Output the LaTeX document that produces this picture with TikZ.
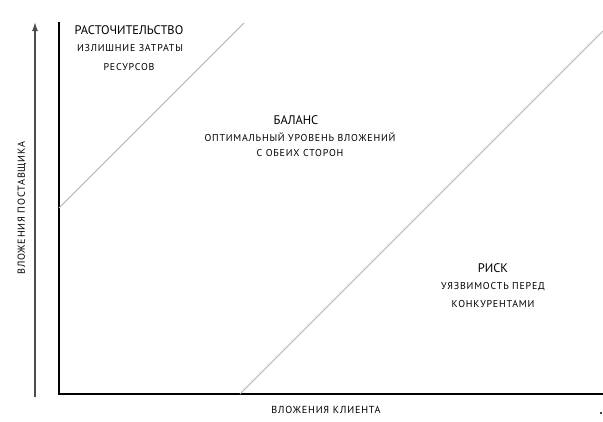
\documentclass[tikz,border=0pt]{standalone}
\usepackage{fontspec}
\setmainfont{PT Sans}
\newfontfamily\titlefont{PT Sans}
\newfontfamily\subfont[LetterSpace=8]{PT Sans}
\usetikzlibrary{arrows.meta}
\begin{document}
\begin{tikzpicture}[x=1bp,y=-1bp,
  axis/.style={line width=1.3bp,black},
  diag/.style={line width=1bp,black!30},
  ttl/.style={font=\titlefont\fontsize{12.5}{14}\selectfont,inner sep=0pt,anchor=center,text=black},
  sub/.style={font=\subfont\fontsize{10}{12}\selectfont,inner sep=0pt,anchor=center,text=black},
  lbl/.style={font=\subfont\fontsize{10.2}{12}\selectfont,inner sep=0pt,anchor=center,text=black}]
\useasboundingbox (0,0) rectangle (603,421);
% outer arrow
\coordinate (a0) at (35,397);
\coordinate (a1) at (35,22);
\draw[line width=1.4bp,black!70,-{Latex[length=9bp,width=6bp]}] (a0) -- (a1);
% axes
\coordinate (ytop) at (59,22);
\coordinate (o) at (59,394);
\coordinate (xend) at (603,394);
\draw[axis] (ytop) -- (o) -- (xend);
% diagonals
\coordinate (d1a) at (59,208);
\coordinate (d1b) at (244,23);
\coordinate (d2a) at (240,394);
\coordinate (d2b) at (603,31);
\draw[diag] (d1a) -- (d1b);
\draw[diag] (d2a) -- (d2b);
% dot
\fill[black] (601,413) circle (1.1bp);
% texts
\node[ttl] (t1) at (129,30) {РАСТОЧИТЕЛЬСТВО};
\node[sub] (t1a) at (130,48) {ИЗЛИШНИЕ ЗАТРАТЫ};
\node[sub] (t1b) at (129,67) {РЕСУРСОВ};
\node[ttl] (t2) at (296,120) {БАЛАНС};
\node[sub] (t2a) at (300,137) {ОПТИМАЛЬНЫЙ УРОВЕНЬ ВЛОЖЕНИЙ};
\node[sub] (t2b) at (300,153) {С ОБЕИХ СТОРОН};
\node[ttl] (t3) at (493,268) {РИСК};
\node[sub] (t3a) at (493,287) {УЯЗВИМОСТЬ ПЕРЕД};
\node[sub] (t3b) at (493,304) {КОНКУРЕНТАМИ};
\node[lbl] (xl) at (326,410) {ВЛОЖЕНИЯ КЛИЕНТА};
\node[lbl,rotate=90] (yl) at (22,208) {ВЛОЖЕНИЯ ПОСТАВЩИКА};
\end{tikzpicture}
\end{document}
